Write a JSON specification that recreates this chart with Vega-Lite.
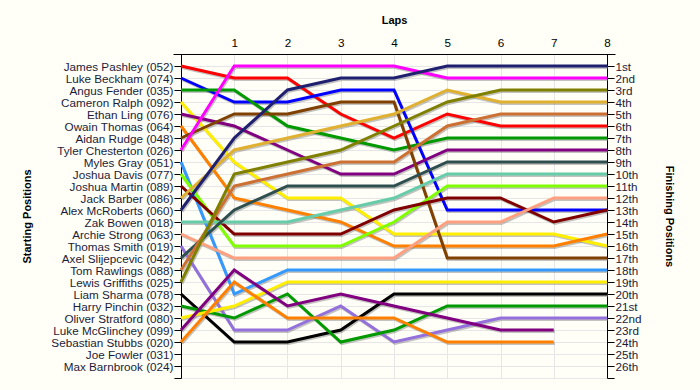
{
  "$schema": "https://vega.github.io/schema/vega-lite/v6.json",
  "width": 442,
  "height": 324,
  "autosize": "none",
  "padding": {"left": 173, "top": 54, "right": 85, "bottom": 12},
  "background": "#fffff7",
  "config": {
    "view": {"stroke": null},
    "font": "Liberation Sans",
    "axis": {"labelFont": "Liberation Sans", "titleFont": "Liberation Sans", "labelFontSize": 11.7, "titleFontSize": 11, "titleFontWeight": "bold", "labelColor": "#1c1c3a", "titleColor": "#000000", "domainColor": "#000000", "tickColor": "#000000", "gridColor": "#e6e6e6", "gridWidth": 1}
  },
  "data": {"values": [
    {"id":"052","lap":0,"pos":1},{"id":"052","lap":1,"pos":2},{"id":"052","lap":2,"pos":2},{"id":"052","lap":3,"pos":5},{"id":"052","lap":4,"pos":7},{"id":"052","lap":5,"pos":5},{"id":"052","lap":6,"pos":6},{"id":"052","lap":7,"pos":6},{"id":"052","lap":8,"pos":6},
    {"id":"074","lap":0,"pos":2},{"id":"074","lap":1,"pos":4},{"id":"074","lap":2,"pos":4},{"id":"074","lap":3,"pos":3},{"id":"074","lap":4,"pos":3},{"id":"074","lap":5,"pos":13},{"id":"074","lap":6,"pos":13},{"id":"074","lap":7,"pos":13},{"id":"074","lap":8,"pos":13},
    {"id":"035","lap":0,"pos":3},{"id":"035","lap":1,"pos":3},{"id":"035","lap":2,"pos":6},{"id":"035","lap":3,"pos":7},{"id":"035","lap":4,"pos":8},{"id":"035","lap":5,"pos":7},{"id":"035","lap":6,"pos":7},{"id":"035","lap":7,"pos":7},{"id":"035","lap":8,"pos":7},
    {"id":"092","lap":0,"pos":4},{"id":"092","lap":1,"pos":9},{"id":"092","lap":2,"pos":12},{"id":"092","lap":3,"pos":12},{"id":"092","lap":4,"pos":15},{"id":"092","lap":5,"pos":15},{"id":"092","lap":6,"pos":15},{"id":"092","lap":7,"pos":15},{"id":"092","lap":8,"pos":16},
    {"id":"076","lap":0,"pos":5},{"id":"076","lap":1,"pos":6},{"id":"076","lap":2,"pos":8},{"id":"076","lap":3,"pos":10},{"id":"076","lap":4,"pos":10},{"id":"076","lap":5,"pos":8},{"id":"076","lap":6,"pos":8},{"id":"076","lap":7,"pos":8},{"id":"076","lap":8,"pos":8},
    {"id":"064","lap":0,"pos":6},{"id":"064","lap":1,"pos":12},{"id":"064","lap":2,"pos":13},{"id":"064","lap":3,"pos":14},{"id":"064","lap":4,"pos":16},{"id":"064","lap":5,"pos":16},{"id":"064","lap":6,"pos":16},{"id":"064","lap":7,"pos":16},{"id":"064","lap":8,"pos":15},
    {"id":"048","lap":0,"pos":7},{"id":"048","lap":1,"pos":5},{"id":"048","lap":2,"pos":5},{"id":"048","lap":3,"pos":4},{"id":"048","lap":4,"pos":4},{"id":"048","lap":5,"pos":17},{"id":"048","lap":6,"pos":17},{"id":"048","lap":7,"pos":17},{"id":"048","lap":8,"pos":17},
    {"id":"026","lap":0,"pos":8},{"id":"026","lap":1,"pos":1},{"id":"026","lap":2,"pos":1},{"id":"026","lap":3,"pos":1},{"id":"026","lap":4,"pos":1},{"id":"026","lap":5,"pos":2},{"id":"026","lap":6,"pos":2},{"id":"026","lap":7,"pos":2},{"id":"026","lap":8,"pos":2},
    {"id":"051","lap":0,"pos":9},{"id":"051","lap":1,"pos":20},{"id":"051","lap":2,"pos":18},{"id":"051","lap":3,"pos":18},{"id":"051","lap":4,"pos":18},{"id":"051","lap":5,"pos":18},{"id":"051","lap":6,"pos":18},{"id":"051","lap":7,"pos":18},{"id":"051","lap":8,"pos":18},
    {"id":"077","lap":0,"pos":10},{"id":"077","lap":1,"pos":16},{"id":"077","lap":2,"pos":16},{"id":"077","lap":3,"pos":16},{"id":"077","lap":4,"pos":14},{"id":"077","lap":5,"pos":11},{"id":"077","lap":6,"pos":11},{"id":"077","lap":7,"pos":11},{"id":"077","lap":8,"pos":11},
    {"id":"089","lap":0,"pos":11},{"id":"089","lap":1,"pos":15},{"id":"089","lap":2,"pos":15},{"id":"089","lap":3,"pos":15},{"id":"089","lap":4,"pos":13},{"id":"089","lap":5,"pos":12},{"id":"089","lap":6,"pos":12},{"id":"089","lap":7,"pos":14},{"id":"089","lap":8,"pos":13},
    {"id":"086","lap":0,"pos":12},{"id":"086","lap":1,"pos":8},{"id":"086","lap":2,"pos":7},{"id":"086","lap":3,"pos":6},{"id":"086","lap":4,"pos":5},{"id":"086","lap":5,"pos":3},{"id":"086","lap":6,"pos":4},{"id":"086","lap":7,"pos":4},{"id":"086","lap":8,"pos":4},
    {"id":"060","lap":0,"pos":13},{"id":"060","lap":1,"pos":7},{"id":"060","lap":2,"pos":3},{"id":"060","lap":3,"pos":2},{"id":"060","lap":4,"pos":2},{"id":"060","lap":5,"pos":1},{"id":"060","lap":6,"pos":1},{"id":"060","lap":7,"pos":1},{"id":"060","lap":8,"pos":1},
    {"id":"018","lap":0,"pos":14},{"id":"018","lap":1,"pos":14},{"id":"018","lap":2,"pos":14},{"id":"018","lap":3,"pos":13},{"id":"018","lap":4,"pos":12},{"id":"018","lap":5,"pos":10},{"id":"018","lap":6,"pos":10},{"id":"018","lap":7,"pos":10},{"id":"018","lap":8,"pos":10},
    {"id":"063","lap":0,"pos":15},{"id":"063","lap":1,"pos":17},{"id":"063","lap":2,"pos":17},{"id":"063","lap":3,"pos":17},{"id":"063","lap":4,"pos":17},{"id":"063","lap":5,"pos":14},{"id":"063","lap":6,"pos":14},{"id":"063","lap":7,"pos":12},{"id":"063","lap":8,"pos":12},
    {"id":"019","lap":0,"pos":16},{"id":"019","lap":1,"pos":23},{"id":"019","lap":2,"pos":23},{"id":"019","lap":3,"pos":21},{"id":"019","lap":4,"pos":24},{"id":"019","lap":5,"pos":23},{"id":"019","lap":6,"pos":22},{"id":"019","lap":7,"pos":22},{"id":"019","lap":8,"pos":22},
    {"id":"042","lap":0,"pos":17},{"id":"042","lap":1,"pos":13},{"id":"042","lap":2,"pos":11},{"id":"042","lap":3,"pos":11},{"id":"042","lap":4,"pos":11},{"id":"042","lap":5,"pos":9},{"id":"042","lap":6,"pos":9},{"id":"042","lap":7,"pos":9},{"id":"042","lap":8,"pos":9},
    {"id":"088","lap":0,"pos":18},{"id":"088","lap":1,"pos":11},{"id":"088","lap":2,"pos":10},{"id":"088","lap":3,"pos":9},{"id":"088","lap":4,"pos":9},{"id":"088","lap":5,"pos":6},{"id":"088","lap":6,"pos":5},{"id":"088","lap":7,"pos":5},{"id":"088","lap":8,"pos":5},
    {"id":"025","lap":0,"pos":19},{"id":"025","lap":1,"pos":10},{"id":"025","lap":2,"pos":9},{"id":"025","lap":3,"pos":8},{"id":"025","lap":4,"pos":6},{"id":"025","lap":5,"pos":4},{"id":"025","lap":6,"pos":3},{"id":"025","lap":7,"pos":3},{"id":"025","lap":8,"pos":3},
    {"id":"078","lap":0,"pos":20},{"id":"078","lap":1,"pos":24},{"id":"078","lap":2,"pos":24},{"id":"078","lap":3,"pos":23},{"id":"078","lap":4,"pos":20},{"id":"078","lap":5,"pos":20},{"id":"078","lap":6,"pos":20},{"id":"078","lap":7,"pos":20},{"id":"078","lap":8,"pos":20},
    {"id":"032","lap":0,"pos":21},{"id":"032","lap":1,"pos":22},{"id":"032","lap":2,"pos":20},{"id":"032","lap":3,"pos":24},{"id":"032","lap":4,"pos":23},{"id":"032","lap":5,"pos":21},{"id":"032","lap":6,"pos":21},{"id":"032","lap":7,"pos":21},{"id":"032","lap":8,"pos":21},
    {"id":"080","lap":0,"pos":22},{"id":"080","lap":1,"pos":21},{"id":"080","lap":2,"pos":19},{"id":"080","lap":3,"pos":19},{"id":"080","lap":4,"pos":19},{"id":"080","lap":5,"pos":19},{"id":"080","lap":6,"pos":19},{"id":"080","lap":7,"pos":19},{"id":"080","lap":8,"pos":19},
    {"id":"099","lap":0,"pos":23},{"id":"099","lap":1,"pos":18},{"id":"099","lap":2,"pos":21},{"id":"099","lap":3,"pos":20},{"id":"099","lap":4,"pos":21},{"id":"099","lap":5,"pos":22},{"id":"099","lap":6,"pos":23},{"id":"099","lap":7,"pos":23},
    {"id":"020","lap":0,"pos":24},{"id":"020","lap":1,"pos":19},{"id":"020","lap":2,"pos":22},{"id":"020","lap":3,"pos":22},{"id":"020","lap":4,"pos":22},{"id":"020","lap":5,"pos":24},{"id":"020","lap":6,"pos":24},{"id":"020","lap":7,"pos":24}
  ]},
  "layer": [
    {
      "mark": {"type": "line", "color": "#7a7a7a", "opacity": 0.45, "strokeWidth": 3, "xOffset": 1, "yOffset": 1.5},
      "encoding": {
        "x": {"field": "lap", "type": "quantitative", "scale": {"domain": [-0.15, 8.15], "nice": false, "zero": false},
          "axis": {"orient": "top", "title": "Laps", "values": [0,1,2,3,4,5,6,7,8], "grid": true, "ticks": false, "labelPadding": 6, "titlePadding": 12, "labelExpr": "datum.value == 0 ? '' : datum.value", "labelColor": "#000000"}},
        "y": {"field": "pos", "type": "quantitative", "scale": {"domain": [0, 27], "reverse": true, "nice": false, "zero": false},
          "axis": {"orient": "right", "title": "Finishing Positions", "titleAngle": 90, "titlePadding": 22, "offset": -8, "values": [1,2,3,4,5,6,7,8,9,10,11,12,13,14,15,16,17,18,19,20,21,22,23,24,25,26,27], "grid": false, "tickSize": 7, "labelPadding": 1,
            "labelExpr": "['','1st','2nd','3rd','4th','5th','6th','7th','8th','9th','10th','11th','12th','13th','14th','15th','16th','17th','18th','19th','20th','21st','22nd','23rd','24th','25th','26th',''][datum.value]"}},
        "detail": {"field": "id", "type": "nominal"}
      }
    },
    {
      "mark": {"type": "line", "strokeWidth": 3},
      "encoding": {
        "x": {"field": "lap", "type": "quantitative", "scale": {"domain": [-0.15, 8.15], "nice": false, "zero": false},
          "axis": {"orient": "top", "title": "Laps", "values": [0,1,2,3,4,5,6,7,8], "grid": true, "ticks": false, "labelPadding": 6, "titlePadding": 12, "labelExpr": "datum.value == 0 ? '' : datum.value", "labelColor": "#000000"}},
        "y": {"field": "pos", "type": "quantitative", "scale": {"domain": [0, 27], "reverse": true, "nice": false, "zero": false},
          "axis": {"orient": "left", "title": "Starting Positions", "titlePadding": 18, "offset": -8, "values": [1,2,3,4,5,6,7,8,9,10,11,12,13,14,15,16,17,18,19,20,21,22,23,24,25,26,27], "grid": true, "tickSize": 7, "labelPadding": 1,
            "labelExpr": "['','James Pashley (052)','Luke Beckham (074)','Angus Fender (035)','Cameron Ralph (092)','Ethan Ling (076)','Owain Thomas (064)','Aidan Rudge (048)','Tyler Chesterton (026)','Myles Gray (051)','Joshua Davis (077)','Joshua Martin (089)','Jack Barber (086)','Alex McRoberts (060)','Zak Bowen (018)','Archie Strong (063)','Thomas Smith (019)','Axel Slijepcevic (042)','Tom Rawlings (088)','Lewis Griffiths (025)','Liam Sharma (078)','Harry Pinchin (032)','Oliver Stratford (080)','Luke McGlinchey (099)','Sebastian Stubbs (020)','Joe Fowler (031)','Max Barnbrook (024)',''][datum.value]"}},
        "color": {"field": "id", "type": "nominal", "legend": null,
          "scale": {"domain": ["052","074","035","092","076","064","048","026","051","077","089","086","060","018","063","019","042","088","025","078","032","080","099","020"],
            "range": ["#ff0000","#0000ff","#009900","#ffee00","#800080","#ff8000","#804000","#ff00ff","#3399ff","#80ff00","#800000","#e0b030","#202070","#66ccaa","#ffa080","#9370db","#2f4f4f","#cc7033","#808000","#000000","#009900","#ffee00","#800080","#ff8000"]}}
      }
    }
  ],
  "resolve": {"scale": {"y": "independent"}, "axis": {"y": "independent"}}
}
